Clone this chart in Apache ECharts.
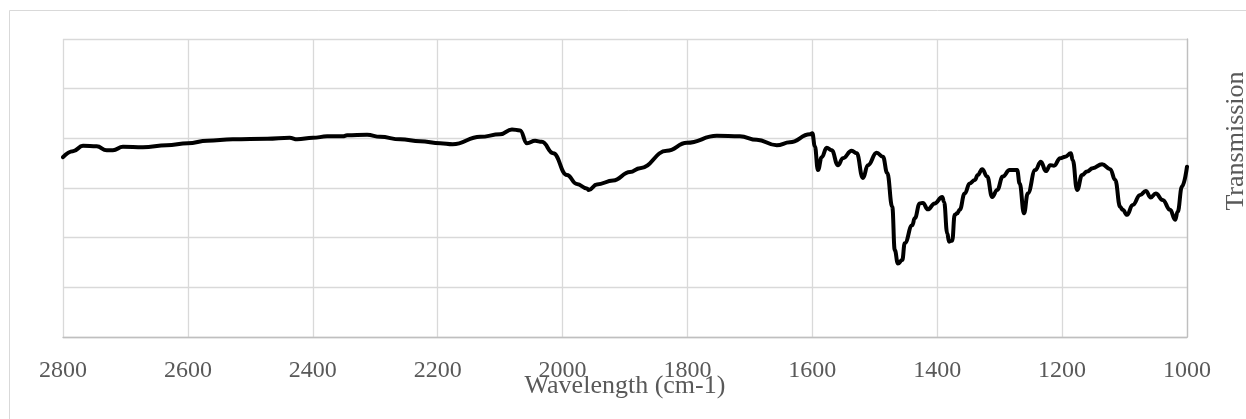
<!DOCTYPE html>
<html>
<head>
<meta charset="utf-8">
<script src="https://cdn.jsdelivr.net/npm/echarts@6/dist/echarts.min.js"></script>
<style>
  html, body { margin: 0; padding: 0; background: #ffffff; }
  #chart { width: 1246px; height: 419px; }
</style>
</head>
<body>
<div id="chart"></div>
<script>
// IR spectrum: wavenumber (cm-1) and transmission readings
const wavenumbers = [
  2800, 2784, 2768, 2746, 2730, 2720, 2704, 2672, 2634, 2600,
  2569, 2528, 2473, 2437, 2425, 2400, 2377, 2352, 2345, 2313,
  2292, 2260, 2228, 2196, 2176, 2132, 2100, 2081, 2068, 2057,
  2044, 2033, 2015, 1993, 1977, 1961, 1958, 1945, 1919, 1892,
  1876, 1833, 1801, 1753, 1716, 1689, 1657, 1636, 1604, 1600,
  1596, 1591, 1585, 1577, 1569, 1559, 1551, 1537, 1529, 1519,
  1511, 1497, 1487, 1480, 1472, 1468, 1463, 1456, 1452, 1440,
  1436, 1428, 1423, 1415, 1404, 1392, 1389, 1384, 1381, 1376,
  1372, 1368, 1364, 1356, 1348, 1340, 1335, 1328, 1320, 1312,
  1304, 1295, 1284, 1272, 1268, 1261, 1255, 1243, 1234, 1226,
  1219, 1213, 1203, 1195, 1186, 1183, 1176, 1168, 1160, 1151,
  1136, 1123, 1115, 1107, 1103, 1096, 1087, 1075, 1066, 1058,
  1050, 1039, 1027, 1019, 1015, 1008, 1000
];
const transmission = [
  36.2, 37.4, 38.5, 38.4, 37.6, 37.6, 38.3, 38.2, 38.6, 39.0,
  39.5, 39.8, 39.9, 40.1, 39.8, 40.1, 40.4, 40.4, 40.6, 40.7,
  40.3, 39.8, 39.4, 39.0, 38.8, 40.3, 40.8, 41.8, 41.6, 39.0,
  39.5, 39.3, 37.0, 32.6, 30.8, 29.9, 29.6, 30.7, 31.5, 33.2,
  34.0, 37.5, 39.1, 40.5, 40.4, 39.7, 38.6, 39.2, 40.8, 41.0,
  38.4, 33.6, 36.2, 38.1, 37.6, 34.6, 36.0, 37.5, 37.0, 32.0,
  34.6, 37.1, 36.3, 33.0, 26.2, 17.5, 14.8, 15.5, 18.9, 22.5,
  23.9, 26.9, 27.0, 25.7, 26.9, 28.2, 27.2, 20.9, 19.2, 19.4,
  24.6, 24.9, 25.6, 28.9, 30.9, 31.6, 32.6, 33.8, 32.3, 28.2,
  29.6, 32.3, 33.6, 33.6, 30.9, 24.9, 28.9, 33.6, 35.3, 33.4,
  34.6, 34.5, 36.0, 36.3, 37.0, 35.6, 29.6, 32.6, 33.3, 34.0,
  34.8, 33.8, 31.6, 26.2, 25.6, 24.6, 26.6, 28.6, 29.4, 28.1,
  28.9, 27.6, 25.6, 23.6, 25.2, 30.3, 34.3
];
const xTicks = { min: 1000, max: 2800, step: 200 };
const yTicks = { min: 0, max: 60, step: 10 };

const xTitle = 'Wavelength (cm-1)';
const yTitle = 'Transmission';

const points = wavenumbers.map((w, i) => [w, transmission[i]]);

const chart = echarts.init(document.getElementById('chart'), null, { renderer: 'canvas' });

const serif = '"Liberation Serif", "DejaVu Serif", serif';
const textGrey = '#595959';

chart.setOption({
  animation: false,
  backgroundColor: '#ffffff',
  grid: {
    left: 63, right: 59, top: 39, bottom: 82,
    containLabel: false,
    outerBoundsMode: 'none'
  },
  xAxis: {
    type: 'value',
    inverse: true,
    min: xTicks.min,
    max: xTicks.max,
    interval: xTicks.step,
    name: xTitle,
    nameLocation: 'middle',
    nameGap: 36,
    nameMoveOverlap: false,
    nameTextStyle: { fontFamily: serif, fontSize: 26, color: textGrey },
    axisLine: { show: true, lineStyle: { color: '#bfbfbf', width: 1.3 } },
    axisTick: { show: false },
    axisLabel: {
      fontFamily: serif, fontSize: 24, color: textGrey, margin: 22,
      formatter: (v) => String(v)
    },
    splitLine: { show: true, lineStyle: { color: '#d9d9d9', width: 1.3 } }
  },
  yAxis: {
    type: 'value',
    position: 'right',
    min: yTicks.min,
    max: yTicks.max,
    interval: yTicks.step,
    axisLine: { show: true, lineStyle: { color: '#bfbfbf', width: 1.3 } },
    axisTick: { show: false },
    axisLabel: { show: false },
    splitLine: { show: true, lineStyle: { color: '#d9d9d9', width: 1.3 } }
  },
  graphic: [
    {
      type: 'rect',
      silent: true,
      shape: { x: 9.5, y: 10.5, width: 1260, height: 430 },
      style: { fill: 'none', stroke: '#d9d9d9', lineWidth: 1 },
      z: -1
    },
    {
      type: 'text',
      silent: true,
      x: 1236,
      y: 141,
      rotation: Math.PI / 2,
      style: {
        text: yTitle,
        font: '26px "Liberation Serif", "DejaVu Serif", serif',
        fill: textGrey,
        textAlign: 'center',
        textVerticalAlign: 'middle'
      }
    }
  ],
  series: [{
    type: 'line',
    data: points,
    showSymbol: false,
    smooth: 0.45,
    smoothMonotone: 'x',
    lineStyle: { color: '#000000', width: 4, join: 'round', cap: 'round' },
    itemStyle: { color: '#000000' }
  }]
});
</script>
</body>
</html>
